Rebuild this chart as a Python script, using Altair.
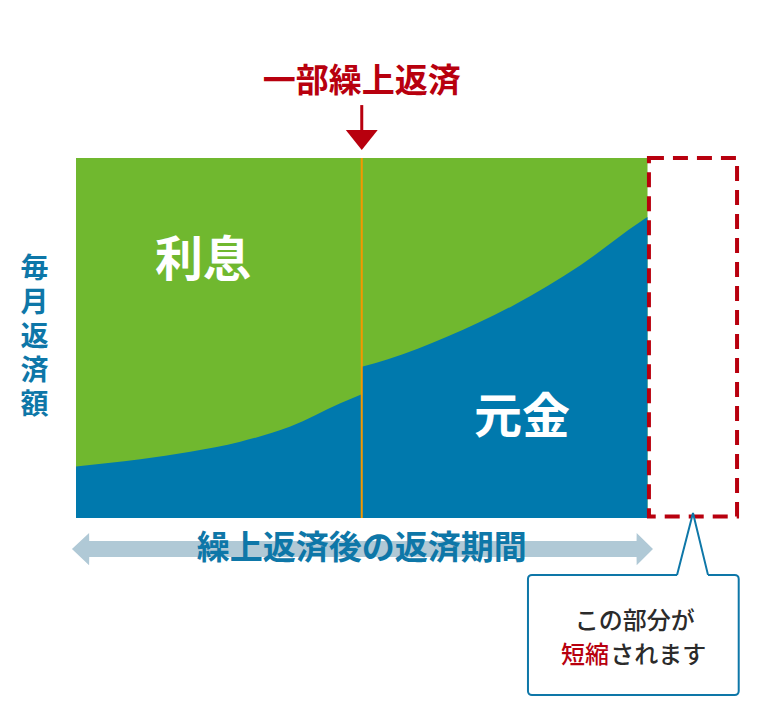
import altair as alt
import pandas as pd

# ---- data ----
# monthly payment composition: principal share (%) of the monthly payment
months_before = [0, 27, 48, 69, 90, 111, 120]
principal_before = [14.3, 16.3, 18.4, 21.2, 25.4, 31.9, 34.4]
months_after = [120, 131, 156, 184, 212, 237, 240]
principal_after = [42.0, 44.1, 50.4, 59.2, 70.3, 82.3, 83.6]

prepay_month = 120
new_end_month = 240
old_end_month = 278
payment_top = 100

ylabel_chars = ["毎", "月", "返", "済", "額"]

FONT = "Noto Sans CJK JP"
GREEN = "#70b82f"
BLUE = "#0079ad"
RED = "#b8000e"
ORANGE = "#f39800"
TXTBLUE = "#0e77a8"
ARROW = "#b0c9d6"

xs = alt.Scale(domain=[0, old_end_month], nice=False, zero=False)
ys = alt.Scale(domain=[0, payment_top], nice=False, zero=False)


def XE(f):
    return alt.X(f, type="quantitative", scale=xs, axis=None)


def YE(f):
    return alt.Y(f, type="quantitative", scale=ys, axis=None, stack=None)


def span(x, x2, y, y2):
    return pd.DataFrame({"x": [x], "x2": [x2], "y": [y], "y2": [y2]})


# green background = whole monthly payment (interest on top)
green = alt.Chart(span(0, new_end_month, 0, payment_top)).mark_rect(color=GREEN).encode(
    x=XE("x"), x2="x2", y=YE("y"), y2="y2"
)

blue_df = pd.DataFrame(
    {
        "m": months_before + months_after,
        "p": principal_before + principal_after,
        "seg": ["before"] * len(months_before) + ["after"] * len(months_after),
    }
)
blue = alt.Chart(blue_df).mark_area(color=BLUE, interpolate="monotone").encode(
    x=XE("m"), y=YE("p"), detail="seg:N"
)

orange = alt.Chart(span(prepay_month, prepay_month, 0, payment_top)).mark_rule(
    color=ORANGE, strokeWidth=2
).encode(x=XE("x"), y=YE("y"), y2="y2")

dashed = alt.Chart(span(240.6, 277.6, 0.4, 100)).mark_rect(
    filled=False, stroke=RED, strokeWidth=4, strokeDash=[15, 9]
).encode(x=XE("x"), x2="x2", y=YE("y"), y2="y2")


def txt(text, x, y, size, color, weight="bold", align="center", **kw):
    return alt.Chart(pd.DataFrame({"x": [x], "y": [y]})).mark_text(
        text=text, font=FONT, fontSize=size, color=color, fontWeight=weight,
        align=align, baseline="middle", **kw
    ).encode(x=XE("x"), y=YE("y"))


label_interest = txt("利息", 53.3, 71.1, 48, "white")
label_principal = txt("元金", 187.3, 27.5, 48, "white")
title = txt("一部繰上返済", prepay_month, 121.1, 33, RED)

ylab_df = pd.DataFrame({"c": ylabel_chars, "x": [-17.4] * 5, "y": [68.9, 59.4, 50.0, 40.6, 31.1]})
ylabel = alt.Chart(ylab_df).mark_text(
    font=FONT, fontSize=28, color=TXTBLUE, fontWeight="bold", baseline="middle"
).encode(x=XE("x"), y=YE("y"), text="c:N")

shaft = alt.Chart(span(prepay_month, prepay_month, 114.7, 107.0)).mark_rule(
    color=RED, strokeWidth=3
).encode(x=XE("x"), y=YE("y"), y2="y2")
head = alt.Chart(pd.DataFrame({"m": [113.3, 120, 126.7], "t": [107.8, 102.2, 107.8], "b": [107.8] * 3})).mark_area(
    color=RED
).encode(x=XE("m"), y=YE("t"), y2="b")

# double-headed arrow for the new repayment period
arr_m = [-1.7, 5.5, 5.55, 235.4, 235.45, 242.3]
arr_top = [-8.6, -4.2, -6.4, -6.4, -4.2, -8.6]
arr_bot = [-8.6, -13.1, -10.8, -10.8, -13.1, -8.6]
darrow = alt.Chart(pd.DataFrame({"m": arr_m, "t": arr_top, "b": arr_bot})).mark_area(color=ARROW).encode(
    x=XE("m"), y=YE("t"), y2="b"
)
period = txt("繰上返済後の返済期間", prepay_month, -8.6, 33, TXTBLUE)

# callout
box = alt.Chart(span(189.8, 278.3, -15.8, -49.2)).mark_rect(
    fill="white", stroke=TXTBLUE, strokeWidth=2, cornerRadius=4
).encode(x=XE("x"), x2="x2", y=YE("y"), y2="y2")
ptr_df = pd.DataFrame({"m": [252.4, 259.1, 265.4], "t": [-15.8, 1.4, -15.8], "b": [-16.2] * 3})
ptr_fill = alt.Chart(ptr_df).mark_area(color="white").encode(x=XE("m"), y=YE("t"), y2="b")
ptr_line = alt.Chart(ptr_df).mark_line(color=TXTBLUE, strokeWidth=2).encode(x=XE("m"), y=YE("t"))
c1 = txt("この部分が", 234.6, -28.9, 24, "#2b2b2b", weight=500)
c2a = txt("短縮", 223.8, -38.2, 24, RED, weight=500, align="right")
c2b = txt("されます", 224.4, -38.2, 24, "#2b2b2b", weight=500, align="left")

chart = alt.layer(
    green, blue, orange, dashed, label_interest, label_principal, title, shaft, head,
    ylabel, darrow, period, box, ptr_fill, ptr_line, c1, c2a, c2b,
).properties(
    width=662, height=360,
    autosize=alt.AutoSizeParams(type="none"),
    padding={"left": 68, "top": 150, "right": 14, "bottom": 190},
).configure_view(stroke=None)

chart.save("out.html", embed_options={"renderer": "svg", "actions": False})
